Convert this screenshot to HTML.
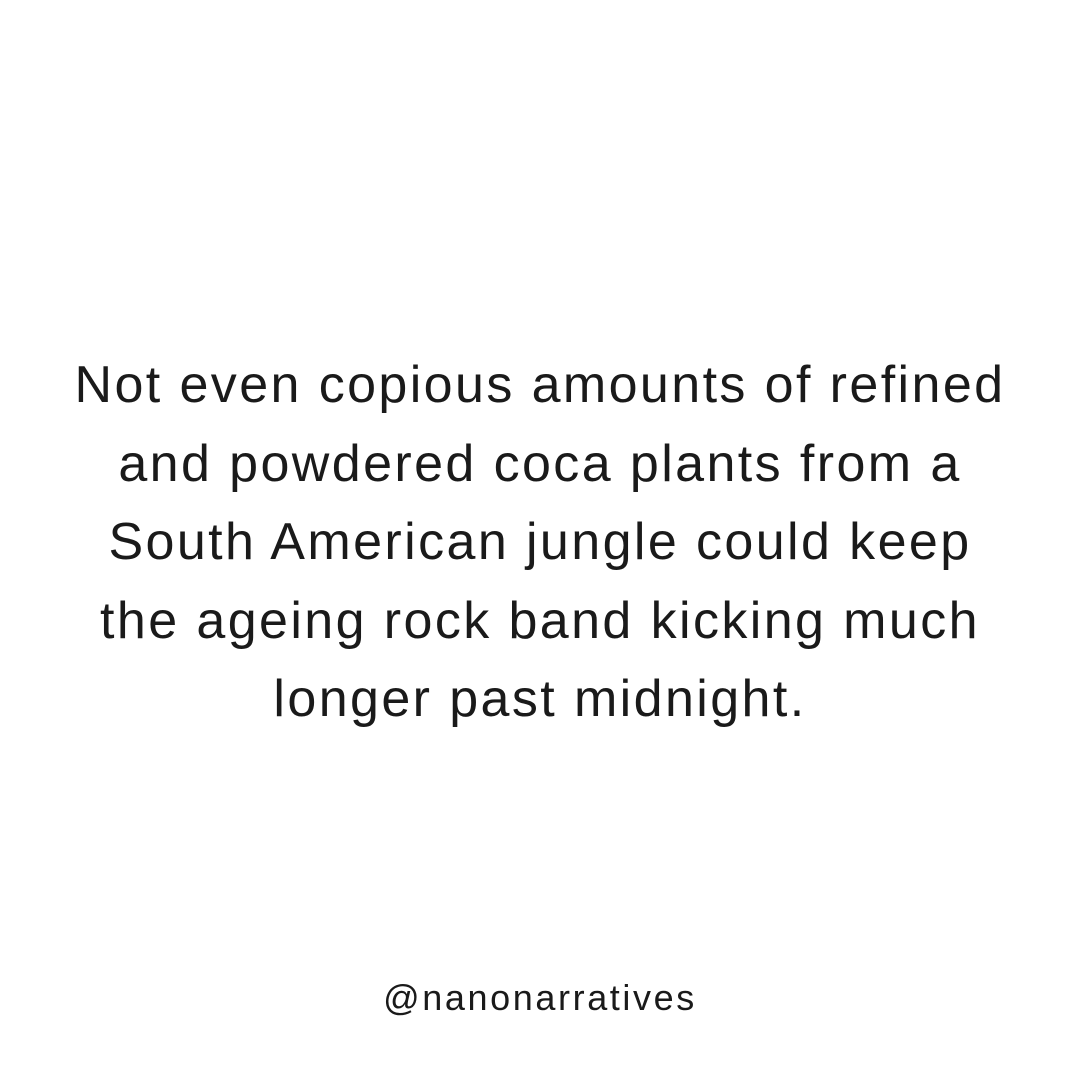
<!DOCTYPE html>
<html>
<head>
<meta charset="utf-8">
<style>
  html, body { margin:0; padding:0; background:#ffffff; }
  body { width:1080px; height:1080px; position:relative; overflow:hidden; font-family:"Liberation Sans", "DejaVu Sans", sans-serif; color:#1a1a1a; }
  .quote { position:absolute; left:0; top:346px; width:1080px; text-align:center; font-size:52px; line-height:78.5px; font-weight:normal; letter-spacing:2.4px; }
  .quote div { white-space:nowrap; }
  .handle { position:absolute; left:0; top:977px; width:1080px; text-align:center; font-size:36px; letter-spacing:2.6px; }
</style>
</head>
<body>
  <div class="quote">
    <div>Not even copious amounts of refined</div>
    <div>and powdered coca plants from a</div>
    <div>South American jungle could keep</div>
    <div>the ageing rock band kicking much</div>
    <div>longer past midnight.</div>
  </div>
  <div class="handle">@nanonarratives</div>
</body>
</html>
